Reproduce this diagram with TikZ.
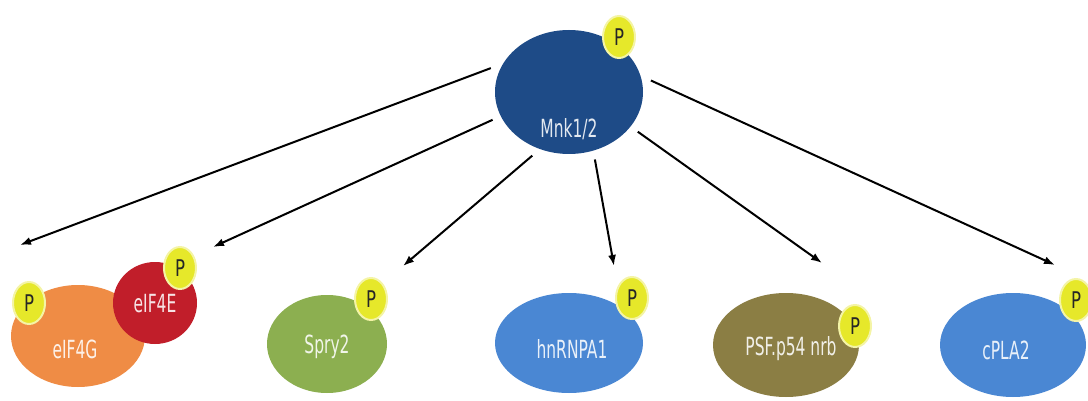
\documentclass[tikz,border=0pt]{standalone}
\usepackage{fontspec}
\usepackage{tikz}
\usetikzlibrary{shapes.geometric, arrows.meta}
\newfontfamily\molfont{DejaVu Sans}[FakeStretch=0.62]
\newfontfamily\pfont{DejaVu Sans}[FakeStretch=0.72]
\definecolor{mnkblue}{HTML}{1E4B87}
\definecolor{gorange}{HTML}{EF8C45}
\definecolor{ered}{HTML}{C11E2A}
\definecolor{sgreen}{HTML}{8CAF50}
\definecolor{hblue}{HTML}{4A87D3}
\definecolor{polive}{HTML}{8B7E44}
\definecolor{pyellow}{HTML}{E6E82A}
\definecolor{phalo}{HTML}{F4F4A6}

\begin{document}
\begin{tikzpicture}[x=1pt, y=-1pt,
  mol/.style = {ellipse, inner sep=0pt, outer sep=9pt},
  lbl/.style = {font=\molfont\fontsize{25}{27}\selectfont, text=white, text opacity=0.88},
  phos/.style = {ellipse, fill=pyellow, draw=phalo, line width=2pt, inner sep=0pt,
                 minimum width=32pt, minimum height=42pt, text=black!85,
                 font=\pfont\fontsize{23}{25}\selectfont},
  arr/.style = {-{Latex[length=11pt, width=8pt]}, line width=2pt}]
\useasboundingbox (0,0) rectangle (1088,401);
% kinase
\node[mol, fill=mnkblue, minimum width=148pt, minimum height=124pt,
      label={[lbl, yshift=-37pt]center:Mnk1/2}] (mnk) at (569,92) {};
\node[phos] (pmnk) at (619,37) {P};
% substrates
\node[mol, fill=gorange, minimum width=134pt, minimum height=102pt,
      label={[lbl, yshift=-13pt, xshift=-3pt]center:eIF4G}] (g) at (78,336) {};
\node[phos] (pg) at (29,303) {P};
\node[mol, fill=ered, minimum width=84pt, minimum height=82pt,
      label={[lbl, yshift=-1pt]center:eIF4E}] (e) at (155,303) {};
\node[phos] (pe) at (180,268) {P};
\node[mol, fill=sgreen, minimum width=120pt, minimum height=98pt,
      label={[lbl, yshift=-3pt]center:Spry2}] (s) at (327,344) {};
\node[phos] (ps) at (371,299) {P};
\node[mol, fill=hblue, minimum width=148pt, minimum height=100pt,
      label={[lbl, yshift=-6pt, xshift=3pt]center:hnRNPA1}] (h) at (569,343) {};
\node[phos] (ph) at (632,298) {P};
\node[mol, fill=polive, minimum width=146pt, minimum height=104pt,
      label={[lbl, yshift=-4pt, xshift=5pt]center:PSF.p54 nrb}] (psf) at (786,345) {};
\node[phos] (ppsf) at (855,326) {P};
\node[mol, fill=hblue, minimum width=146pt, minimum height=104pt,
      label={[lbl, yshift=-5pt, xshift=-7pt]center:cPLA2}] (c) at (1013,345) {};
\node[phos] (pc) at (1076,300) {P};
% arrow ends
\coordinate (t1) at (20,245);
\coordinate (t2) at (213,247);
\coordinate (t3) at (403,266);
\coordinate (t4) at (614,266);
\coordinate (t5) at (822,263);
\coordinate (t6) at (1055,265);
\draw[arr] (mnk.163) -- (t1);
\draw[arr] (mnk.200) -- (t2);
\draw[arr] (mnk.240) -- (t3);
\draw[arr] (mnk.291) -- (t4);
\draw[arr] (mnk.330) -- (t5);
\draw[arr] (mnk.8) -- (t6);
\end{tikzpicture}
\end{document}
